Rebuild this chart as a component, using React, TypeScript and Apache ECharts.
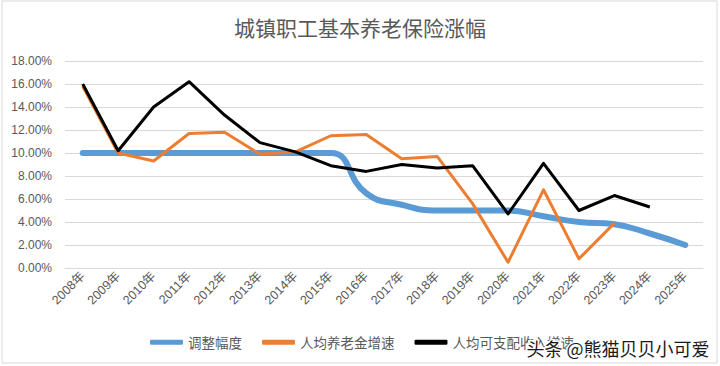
import React, { useEffect, useRef } from "react";
import * as echarts from "echarts";

const categories = ["2008年","2009年","2010年","2011年","2012年","2013年","2014年","2015年","2016年","2017年","2018年","2019年","2020年","2021年","2022年","2023年","2024年","2025年"];
const adjustRate = [10, 10, 10, 10, 10, 10, 10, 10, 6.5, 5.5, 5, 5, 5, 4.5, 4, 3.8, 3, 2];
const pensionGrowth = [15.8, 10, 9.3, 11.7, 11.8, 9.9, 10.1, 11.5, 11.6, 9.5, 9.7, 5.6, 0.5, 6.8, 0.8, 3.9, null, null];
const incomeGrowth = [16.0, 10.2, 14.0, 16.2, 13.3, 10.9, 10.1, 8.9, 8.4, 9.0, 8.7, 8.9, 4.7, 9.1, 5.0, 6.3, 5.3, null];
const seriesNames = ["调整幅度", "人均养老金增速", "人均可支配收入增速"];
const titleText = "城镇职工基本养老保险涨幅";
const watermark = "头条 @熊猫贝贝小可爱";

export default function App() {
  const ref = useRef<HTMLDivElement>(null);
  useEffect(() => {
    const chart = echarts.init(ref.current!, null, { renderer: "svg" });
    const font = "'Liberation Sans', 'Noto Sans CJK SC', sans-serif";
    const cjk = "'Noto Sans CJK SC', sans-serif";
    chart.setOption({
      animation: false,
      backgroundColor: "#fff",
      title: {
        text: titleText,
        left: "center",
        top: 11,
        textStyle: { fontFamily: cjk, fontSize: 21, fontWeight: "normal", color: "#595959" },
      },
      grid: { left: 65, right: 17, top: 61, bottom: 98 },
      legend: {
        bottom: 12,
        left: 145,
        itemWidth: 33,
        itemHeight: 5,
        itemGap: 20,
        icon: "roundRect",
        textStyle: { fontFamily: cjk, fontSize: 13.5, color: "#595959" },
        data: seriesNames,
      },
      xAxis: {
        type: "category",
        data: categories,
        boundaryGap: true,
        axisLine: { show: true, lineStyle: { color: "#d9d9d9" } },
        axisTick: { show: false },
        axisLabel: { rotate: 45, fontFamily: font, fontSize: 12.5, color: "#595959", margin: 6, interval: 0 },
      },
      yAxis: {
        type: "value",
        min: 0,
        max: 18,
        interval: 2,
        axisLine: { show: false },
        axisTick: { show: false },
        splitLine: { lineStyle: { color: "#d9d9d9", width: 1 } },
        axisLabel: {
          fontFamily: font,
          fontSize: 12,
          color: "#595959",
          margin: 13,
          formatter: (v: number) => v.toFixed(2) + "%",
        },
      },
      series: [
        {
          name: seriesNames[0],
          type: "line",
          data: adjustRate,
          smooth: 0.5,
          symbol: "none",
          lineStyle: { width: 6, color: "#5B9BD5", cap: "round", join: "round" },
          itemStyle: { color: "#5B9BD5" },
          z: 1,
        },
        {
          name: seriesNames[1],
          type: "line",
          data: pensionGrowth,
          symbol: "none",
          lineStyle: { width: 3, color: "#ED7D31", join: "round" },
          itemStyle: { color: "#ED7D31" },
          z: 2,
        },
        {
          name: seriesNames[2],
          type: "line",
          data: incomeGrowth,
          symbol: "none",
          lineStyle: { width: 3, color: "#000000", join: "round" },
          itemStyle: { color: "#000000" },
          z: 3,
        },
      ],
      graphic: [
        {
          type: "rect",
          shape: { x: 2, y: 1, width: 715, height: 362 },
          style: { fill: "none", stroke: "#d9d9d9", lineWidth: 1 },
          silent: true,
          z: 100,
        },
        {
          type: "text",
          left: 525,
          top: 337,
          style: {
            text: watermark,
            fontFamily: cjk,
            fontSize: 18,
            fill: "#1a1a1a",
            stroke: "#ffffff",
            lineWidth: 3,
          },
          z: 101,
        },
      ],
    });
    return () => chart.dispose();
  }, []);
  return <div ref={ref} style={{ width: 720, height: 366, position: "absolute", left: 0, top: 0 }} />;
}
